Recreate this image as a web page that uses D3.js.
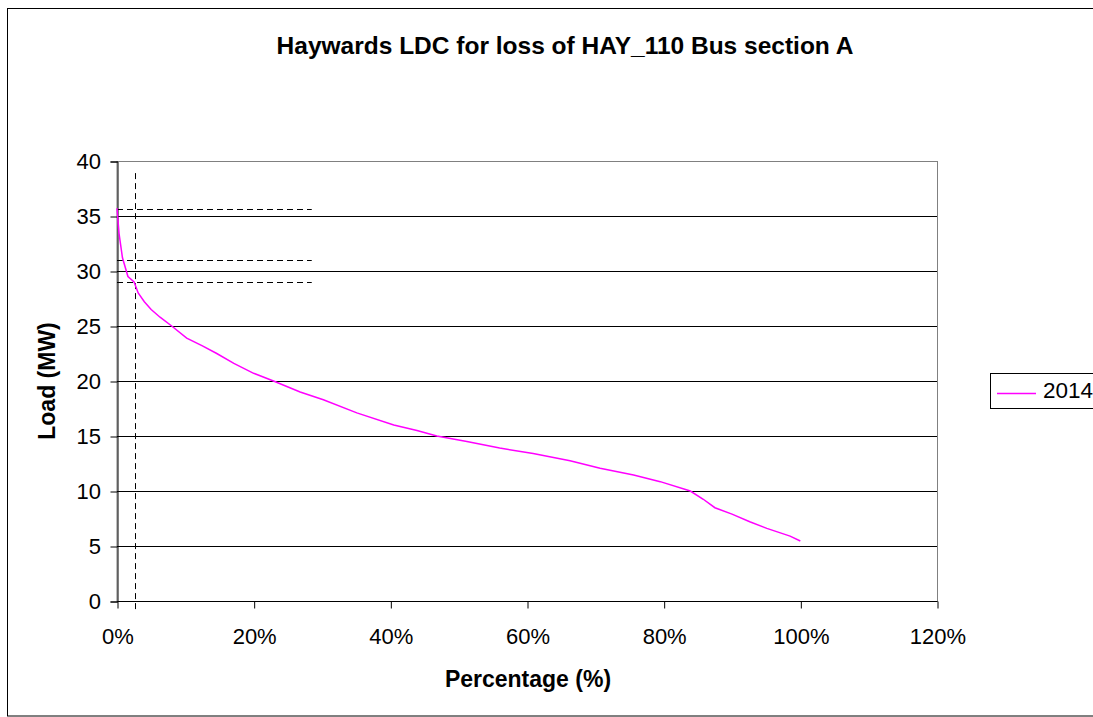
<!DOCTYPE html>
<html><head><meta charset="utf-8">
<script src="https://cdn.jsdelivr.net/npm/d3@7"></script>
<style>body{margin:0;background:#fff;} svg{display:block;font-family:"Liberation Sans",Arial,sans-serif;}</style>
</head><body>
<svg id="c" width="1093" height="717"></svg>
<script>
const titleText = "Haywards LDC for loss of HAY_110 Bus section A";
const xTitle = "Percentage (%)";
const yTitle = "Load (MW)";
const seriesName = "2014";
const xTicks = [0, 20, 40, 60, 80, 100, 120];
const yTicks = [0, 5, 10, 15, 20, 25, 30, 35, 40];
const pct = [0, 0.3, 0.8, 1.6, 2.5, 3.1, 4.0, 5.0, 6.3, 8.0, 10.2, 12.5, 14.6, 17.1, 20, 22.9, 26.8, 30.2, 35.1, 40.5, 43.9, 46.8, 51.2, 56.0, 60.9, 66.3, 70.7, 75.6, 79.5, 83.9, 85.8, 87.5, 90, 92.6, 95.1, 98.5, 100];
const load = [35.7, 33.4, 31.2, 29.5, 29.0, 28.0, 27.2, 26.5, 25.8, 25.0, 23.9, 23.2, 22.5, 21.6, 20.7, 20.0, 19.0, 18.3, 17.1, 16.0, 15.5, 15.0, 14.5, 13.9, 13.4, 12.75, 12.06, 11.45, 10.85, 10.0, 9.25, 8.48, 7.9, 7.2, 6.6, 5.9, 5.45];
// dashed reference lines
const refLevels = [35.6, 31.0, 29.0];
const refLevelEnd = 28.5;
const refPct = 2.63;
const refPctRange = [-0.8, 38.9];

const FONT = '"Liberation Sans",Arial,sans-serif';
const svg = d3.select("#c");
const L = 117, R = 937, T = 161, B = 601;
const x = d3.scaleLinear().domain([0, 120]).range([L, R]);
const y = d3.scaleLinear().domain([0, 40]).range([B, T]);
const crisp = v => Math.round(v) + 0.5;

// outer border
svg.append("rect").attr("x", 7.5).attr("y", 8.5).attr("width", 1200).attr("height", 707.5)
  .attr("fill", "none").attr("stroke", "#000").attr("stroke-width", 1);

// plot border (gray)
svg.append("rect").attr("x", L).attr("y", T + 0.5).attr("width", R - L + 0.5).attr("height", B - T)
  .attr("fill", "none").attr("stroke", "#808080").attr("stroke-width", 1);

// gridlines
svg.append("g").selectAll("line").data(yTicks.filter(d => d > 0 && d < 40)).join("line")
  .attr("x1", L).attr("x2", R).attr("y1", d => crisp(y(d))).attr("y2", d => crisp(y(d)))
  .attr("stroke", "#000").attr("stroke-width", 1);

// axes (lines and ticks via d3 axis, labels drawn separately)
const yAxis = d3.axisLeft(y).tickValues(yTicks).tickSize(7).tickFormat("");
const gy = svg.append("g").attr("transform", `translate(${L + 0.5},0.5)`).call(yAxis);
const xAxis = d3.axisBottom(x).tickValues(xTicks).tickSize(7).tickFormat("");
const gx = svg.append("g").attr("transform", `translate(0.5,${B + 0.5})`).call(xAxis);
[gx, gy].forEach(g => {
  g.select(".domain").attr("stroke", "#000");
  g.selectAll(".tick line").attr("stroke", "#000");
});
gx.select(".domain").attr("d", `M${L},0H${R}`);

svg.append("g").selectAll("text").data(yTicks).join("text")
  .attr("x", 101).attr("y", d => y(d) + 8).attr("text-anchor", "end")
  .style("font-size", "22px").style("font-family", FONT).text(d => d);
svg.append("g").selectAll("text").data(xTicks).join("text")
  .attr("x", d => x(d) + 1).attr("y", 644).attr("text-anchor", "middle")
  .style("font-size", "22px").style("font-family", FONT).text(d => d + "%");

// dashed lines
const dg = svg.append("g").attr("stroke", "#000").attr("stroke-width", 1).attr("stroke-dasharray", "6,4").attr("fill", "none");
dg.selectAll("line.h").data(refLevels).join("line").attr("class", "h")
  .attr("x1", x(0)).attr("x2", x(refLevelEnd)).attr("y1", d => crisp(y(d))).attr("y2", d => crisp(y(d)));
dg.append("line").attr("x1", crisp(x(refPct))).attr("x2", crisp(x(refPct)))
  .attr("y1", y(refPctRange[1])).attr("y2", y(refPctRange[0]));

// series line
const pts = pct.map((p, i) => [p, load[i]]);
svg.append("path").datum(pts)
  .attr("d", d3.line().x(d => x(d[0])).y(d => y(d[1])))
  .attr("fill", "none").attr("stroke", "#FF00FF").attr("stroke-width", 1.5);

// titles
svg.append("text").attr("x", 565).attr("y", 54).attr("text-anchor", "middle")
  .style("font-size", "24.5px").style("font-weight", "bold").text(titleText);
svg.append("text").attr("x", 528).attr("y", 687).attr("text-anchor", "middle")
  .style("font-size", "23px").style("font-weight", "bold").text(xTitle);
svg.append("text").attr("transform", "translate(55,381) rotate(-90)").attr("text-anchor", "middle")
  .style("font-size", "23px").style("font-weight", "bold").text(yTitle);

// legend
svg.append("rect").attr("x", 990.5).attr("y", 373.5).attr("width", 130).attr("height", 35)
  .attr("fill", "#fff").attr("stroke", "#000").attr("stroke-width", 1);
svg.append("line").attr("x1", 997).attr("x2", 1036).attr("y1", 393.5).attr("y2", 393.5)
  .attr("stroke", "#FF00FF").attr("stroke-width", 1.5);
svg.append("text").attr("x", 1043).attr("y", 398).style("font-size", "22.5px").text(seriesName);
</script>
</body></html>
